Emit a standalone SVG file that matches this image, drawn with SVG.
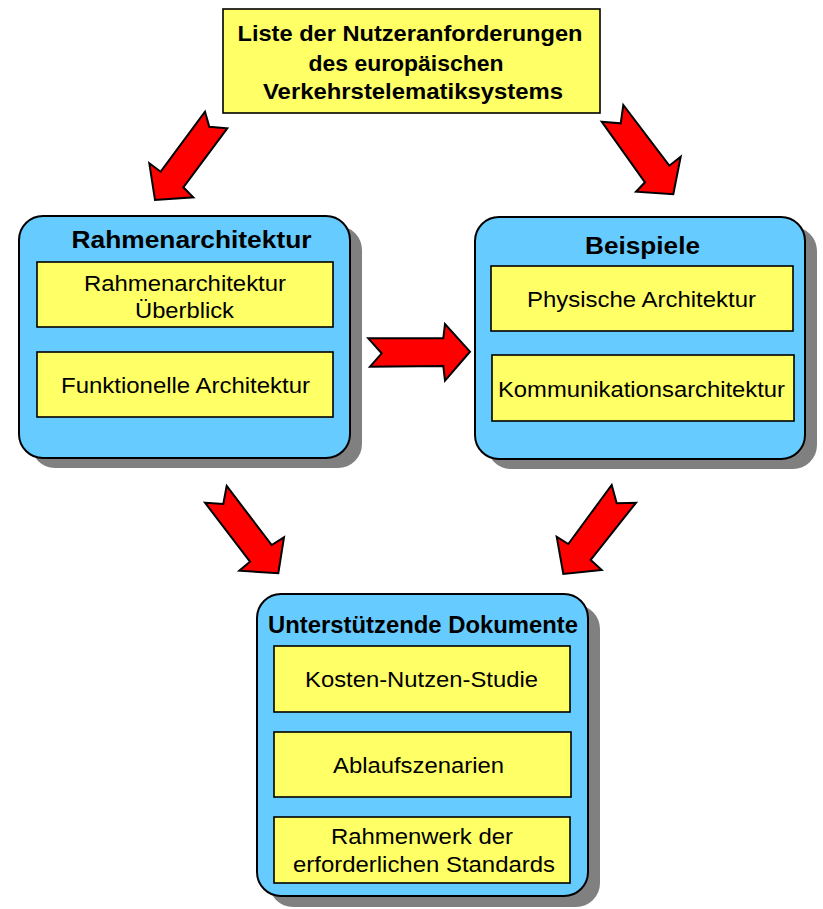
<svg xmlns="http://www.w3.org/2000/svg" width="823" height="909" viewBox="0 0 823 909">
<style>
.cont{fill:#66CCFF;stroke:#000;stroke-width:2}
.shadow{fill:#808080}
.item{fill:#FFFF66;stroke:#000;stroke-width:1.6}
.arrow{fill:#FF0000;stroke:#000;stroke-width:2;stroke-linejoin:miter}
.t{font-family:"Liberation Sans",Arial,sans-serif;font-size:22.5px;fill:#000;text-anchor:middle}
.b{font-weight:bold;font-size:23.5px}
.h{font-weight:bold;font-size:21.5px}
</style>
<rect width="823" height="909" fill="#fff"/>
<g id="connectors">
<polygon class="arrow" points="205,111.7 209.3,126.7 227.3,128.3 183.3,187.3 193.3,197.3 155,200 149.3,163.3 160.7,171.7"/>
<polygon class="arrow" points="601.7,121.7 620.7,123.3 623.3,105 669.3,165.7 680.7,156.7 673.3,194.3 636,191.7 645,182.3"/>
<polygon class="arrow" points="368.3,338.3 381.7,353.3 370,366.7 443.3,366 445,380.7 470,351.7 445,324 443.3,338.3"/>
<polygon class="arrow" points="205,502.7 223.3,504 226.7,486 271.7,545 284,537.3 278.3,573.3 239.3,570.7 250,561.7"/>
<polygon class="arrow" points="611.7,485 616.7,503.3 636,502.7 590.7,560 601.7,570 563.3,574 556.7,536.7 568.3,544"/>
</g>
<g id="top">
<rect class="item" x="223" y="9" width="377" height="104"/>
<text class="t h" x="410" y="41" textLength="345" lengthAdjust="spacingAndGlyphs">Liste der Nutzeranforderungen</text>
<text class="t h" x="406" y="71" textLength="195" lengthAdjust="spacingAndGlyphs">des europäischen</text>
<text class="t h" x="413" y="99" textLength="300" lengthAdjust="spacingAndGlyphs">Verkehrstelematiksystems</text>
</g>
<g id="rahmen">
<rect class="shadow" x="31" y="226" width="331" height="242" rx="24"/>
<rect class="cont" x="19" y="216" width="331" height="242" rx="24"/>
<text class="t b" x="191.5" y="248" textLength="240" lengthAdjust="spacingAndGlyphs">Rahmenarchitektur</text>
<rect class="item" x="37" y="262" width="296" height="65"/>
<text class="t" x="185" y="291" textLength="202" lengthAdjust="spacingAndGlyphs">Rahmenarchitektur</text>
<text class="t" x="184.5" y="318" textLength="99" lengthAdjust="spacingAndGlyphs">Überblick</text>
<rect class="item" x="37" y="352" width="296" height="65"/>
<text class="t" x="185.5" y="393" textLength="249" lengthAdjust="spacingAndGlyphs">Funktionelle Architektur</text>
</g>
<g id="beispiele">
<rect class="shadow" x="487" y="227" width="330" height="242" rx="24"/>
<rect class="cont" x="475" y="217" width="330" height="242" rx="24"/>
<text class="t b" x="642.5" y="254" textLength="115" lengthAdjust="spacingAndGlyphs">Beispiele</text>
<rect class="item" x="491" y="266" width="302" height="65"/>
<text class="t" x="641.5" y="306.5" textLength="229" lengthAdjust="spacingAndGlyphs">Physische Architektur</text>
<rect class="item" x="492" y="355" width="302" height="66"/>
<text class="t" x="641.5" y="396.5" textLength="287" lengthAdjust="spacingAndGlyphs">Kommunikationsarchitektur</text>
</g>
<g id="dokumente">
<rect class="shadow" x="269" y="605" width="331" height="302" rx="24"/>
<rect class="cont" x="257" y="594" width="331" height="302" rx="24"/>
<text class="t b" x="423" y="632.5" textLength="310" lengthAdjust="spacingAndGlyphs">Unterstützende Dokumente</text>
<rect class="item" x="274" y="646" width="296" height="66"/>
<text class="t" x="421.5" y="686.5" textLength="233" lengthAdjust="spacingAndGlyphs">Kosten-Nutzen-Studie</text>
<rect class="item" x="274" y="732" width="297" height="65"/>
<text class="t" x="418.5" y="772.5" textLength="171" lengthAdjust="spacingAndGlyphs">Ablaufszenarien</text>
<rect class="item" x="274" y="817" width="296" height="66"/>
<text class="t" x="422" y="844" textLength="182" lengthAdjust="spacingAndGlyphs">Rahmenwerk der</text>
<text class="t" x="424" y="871.5" textLength="262" lengthAdjust="spacingAndGlyphs">erforderlichen Standards</text>
</g>
</svg>
